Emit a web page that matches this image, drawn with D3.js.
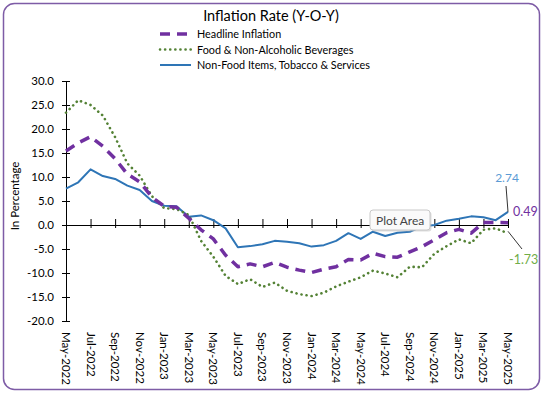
<!DOCTYPE html>
<html>
<head>
<meta charset="utf-8">
<script src="https://cdn.jsdelivr.net/npm/d3@7"></script>
<style>
  body { margin: 0; background: #fff; }
  svg text { font-family: "Lato", "Liberation Sans", sans-serif; }
</style>
</head>
<body>
<div id="chart"></div>
<script>
// month categories, May-2022 .. May-2025
var months = ["May-2022","Jun-2022","Jul-2022","Aug-2022","Sep-2022","Oct-2022","Nov-2022","Dec-2022",
  "Jan-2023","Feb-2023","Mar-2023","Apr-2023","May-2023","Jun-2023","Jul-2023","Aug-2023","Sep-2023","Oct-2023","Nov-2023","Dec-2023",
  "Jan-2024","Feb-2024","Mar-2024","Apr-2024","May-2024","Jun-2024","Jul-2024","Aug-2024","Sep-2024","Oct-2024","Nov-2024","Dec-2024",
  "Jan-2025","Feb-2025","Mar-2025","Apr-2025","May-2025"];

var xTickLabels = ["May-2022","Jul-2022","Sep-2022","Nov-2022","Jan-2023","Mar-2023","May-2023","Jul-2023","Sep-2023",
  "Nov-2023","Jan-2024","Mar-2024","May-2024","Jul-2024","Sep-2024","Nov-2024","Jan-2025","Mar-2025","May-2025"];

var yTicks = [-20, -15, -10, -5, 0, 5, 10, 15, 20, 25, 30];

var headline = [15.4, 17.1, 18.4, 16.4, 13.8, 10.6, 9.0, 5.8,
  3.9, 3.7, 1.4, -1.0, -2.9, -6.3, -8.7, -8.1, -8.7, -7.8, -8.8, -9.4,
  -9.9, -9.2, -8.7, -7.2, -7.3, -5.9, -6.6, -6.7, -5.6, -4.5, -3.1, -1.6,
  -0.9, -1.7, 0.5, 0.5, 0.49];

var food = [23.4, 26.0, 25.0, 22.8, 18.3, 12.8, 10.3, 6.0,
  3.5, 3.3, 2.1, -3.3, -6.6, -10.6, -12.3, -11.3, -12.9, -12.0, -13.7, -14.4,
  -14.8, -14.1, -12.8, -11.8, -10.9, -9.5, -10.1, -10.9, -8.7, -8.8, -6.0, -4.4,
  -3.0, -3.8, -1.0, -0.7, -1.73];

var nonFood = [7.6, 8.9, 11.6, 10.2, 9.6, 8.2, 7.3, 5.0,
  4.0, 3.9, 1.7, 2.0, 1.0, -0.7, -4.65, -4.4, -4.0, -3.3, -3.5, -3.8,
  -4.5, -4.2, -3.3, -1.7, -2.9, -1.4, -2.3, -1.6, -1.4, -0.3, 0.0, 0.9,
  1.3, 1.8, 1.6, 1.0, 2.74];

var width = 543, height = 393;
var purple = "#7030A0", green = "#548235", blue = "#2E75B6";

// plain hyphen for negatives, like the original
function fmt(n, d) { return n.toFixed(d); }

var svg = d3.select("#chart").append("svg").attr("width", width).attr("height", height);

// border
svg.append("rect").attr("x", 3.5).attr("y", 3.5).attr("width", 536).attr("height", 386)
  .attr("rx", 11).attr("fill", "#fff").attr("stroke", "#7E5CA6").attr("stroke-width", 1.5);

var x = d3.scalePoint().domain(months).range([66, 508]);
var y = d3.scaleLinear().domain([-20, 30]).range([321, 81]);

// title
svg.append("text").attr("x", 271).attr("y", 21).attr("text-anchor", "middle")
  .attr("font-size", 14.5).attr("fill", "#000").text("Inflation Rate (Y-O-Y)");

// legend
var series = [
  {name: "Headline Inflation", values: headline, color: purple, width: 3.5, dash: "10,7", cap: "butt"},
  {name: "Food & Non-Alcoholic Beverages", values: food, color: green, width: 2.6, dash: "0.1,5", cap: "round"},
  {name: "Non-Food Items, Tobacco & Services", values: nonFood, color: blue, width: 2, dash: null, cap: "butt"}
];

var legend = svg.append("g");
series.forEach(function(s, i) {
  var ly = 34 + i * 15.5;
  legend.append("line").attr("x1", 160).attr("x2", 191).attr("y1", ly).attr("y2", ly)
    .attr("stroke", s.color).attr("stroke-width", s.width)
    .attr("stroke-dasharray", s.dash).attr("stroke-linecap", s.cap);
  legend.append("text").attr("x", 197).attr("y", ly + 4).attr("font-size", 10.8)
    .attr("fill", "#000").text(s.name);
});

// y axis
var yAxis = svg.append("g").attr("transform", "translate(66,0)")
  .call(d3.axisLeft(y).tickValues(yTicks).tickFormat(function(d) { return fmt(d, 1); })
    .tickSize(4).tickPadding(8));
yAxis.select(".domain").attr("stroke", "#000");
yAxis.selectAll(".tick line").attr("x1", -4).attr("x2", 4).attr("stroke", "#000");
yAxis.selectAll(".tick text").attr("font-size", 11.5).attr("fill", "#000")
  .attr("font-family", "Lato, 'Liberation Sans', sans-serif");

// x axis at zero
var xAxis = svg.append("g").attr("transform", "translate(0," + y(0) + ")")
  .call(d3.axisBottom(x).tickValues(xTickLabels).tickSize(3).tickSizeOuter(0).tickFormat(""));
xAxis.select(".domain").attr("stroke", "#000");
xAxis.selectAll(".tick line").attr("y1", -6).attr("y2", 3).attr("stroke", "#000");

// x labels at bottom, rotated
svg.append("g").selectAll("text").data(xTickLabels).enter().append("text")
  .attr("transform", function(d) { return "translate(" + (x(d) - 4) + ",332) rotate(90)"; })
  .attr("font-size", 11.5).attr("fill", "#000").text(function(d) { return d; });

// y title
svg.append("text").attr("transform", "translate(19,196) rotate(-90)").attr("text-anchor", "middle")
  .attr("font-size", 11.5).attr("fill", "#000").text("In Percentage");

// lines
var line = d3.line().x(function(d, i) { return x(months[i]); }).y(function(d) { return y(d); });

series.slice().reverse().forEach(function(s) {
  svg.append("path").datum(s.values).attr("d", line).attr("fill", "none")
    .attr("stroke", s.color).attr("stroke-width", s.width)
    .attr("stroke-dasharray", s.dash).attr("stroke-linecap", s.cap)
    .attr("stroke-linejoin", "round");
});

// end labels
var n = months.length - 1;
var lx = x(months[n]);
svg.append("line").attr("x1", lx - 2).attr("y1", 186).attr("x2", lx).attr("y2", y(nonFood[n]))
  .attr("stroke", "#000").attr("stroke-width", 0.8);
svg.append("text").attr("x", lx - 1).attr("y", 182).attr("text-anchor", "middle")
  .attr("font-size", 12).attr("fill", "#5B9BD5").text(fmt(nonFood[n], 2));
svg.append("text").attr("x", lx + 5).attr("y", y(headline[n]) - 7).attr("font-size", 12.5)
  .attr("fill", purple).text(fmt(headline[n], 2));
svg.append("line").attr("x1", lx).attr("y1", y(food[n]) - 2).attr("x2", lx + 14).attr("y2", 249)
  .attr("stroke", "#000").attr("stroke-width", 0.8);
svg.append("text").attr("x", lx + 1).attr("y", 264).attr("font-size", 12.5)
  .attr("fill", "#70AD47").text(fmt(food[n], 2));

// "Plot Area" hover tip
var tip = svg.append("g").attr("transform", "translate(370,210)");
tip.append("rect").attr("x", 1.5).attr("y", 1.5).attr("width", 60).attr("height", 20).attr("rx", 3)
  .attr("fill", "#bbb").attr("opacity", 0.5);
tip.append("rect").attr("width", 60).attr("height", 20).attr("rx", 3)
  .attr("fill", "#fafafa").attr("stroke", "#c8c8c8");
tip.append("text").attr("x", 6).attr("y", 14.5).attr("font-size", 12).attr("fill", "#444").text("Plot Area");
</script>
</body>
</html>
